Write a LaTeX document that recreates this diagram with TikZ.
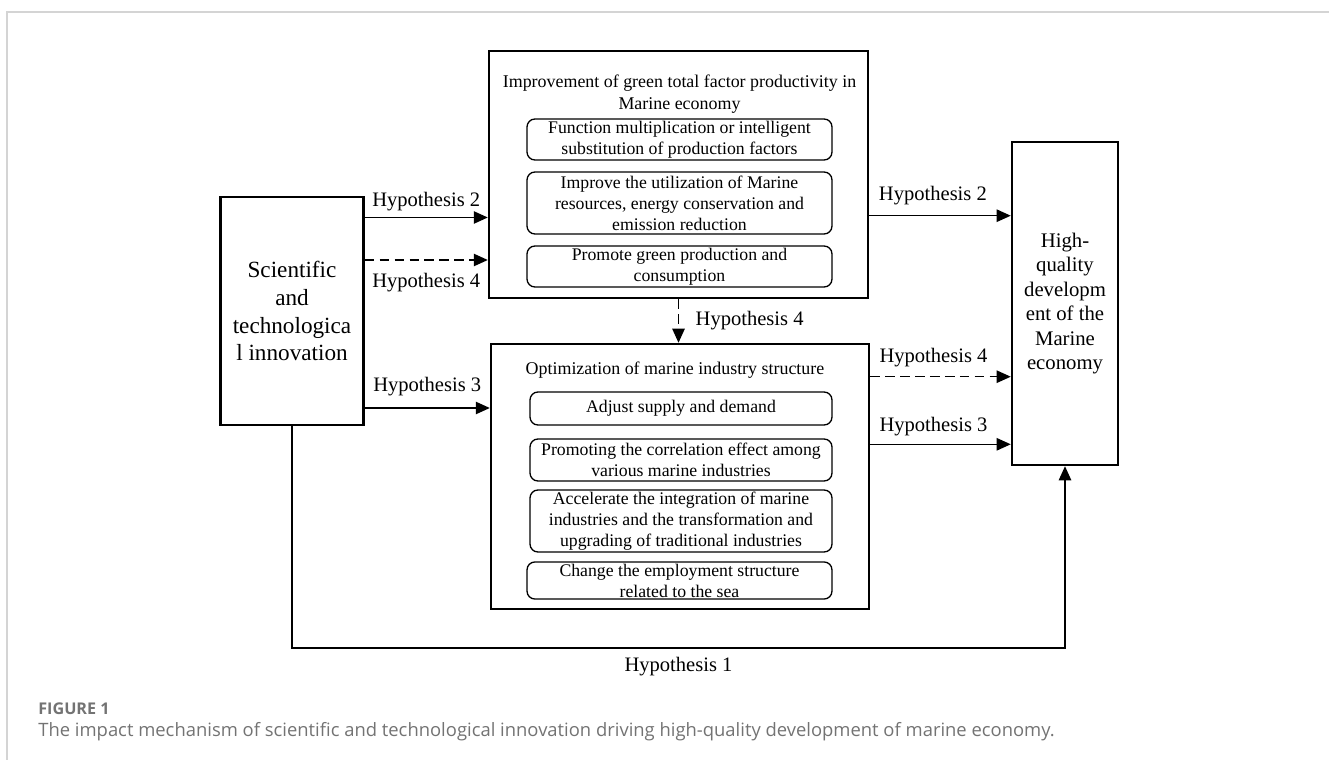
\documentclass[tikz,border=0pt]{standalone}
\usepackage{fontspec}
\setmainfont{Liberation Serif}
\newfontfamily\capfont{Open Sans}
\usetikzlibrary{arrows.meta, positioning, calc}
\definecolor{framegray}{RGB}{212, 212, 212}
\definecolor{capgray}{RGB}{115, 115, 115}

\begin{document}
\begin{tikzpicture}[x=0.02cm, y=-0.02cm,
    bigbox/.style={rectangle, draw, line width=1.4pt, align=center, inner sep=2pt},
    subbox/.style={rectangle, rounded corners=4.5pt, draw, line width=0.75pt,
                   minimum width=6.1cm, align=center, inner sep=1pt,
                   font=\fontsize{10.1}{12}\selectfont},
    hyp/.style={font=\fontsize{11.7}{14}\selectfont},
    arr/.style={-{Triangle[length=8pt, width=7pt]}, line width=0.9pt},
    dash4/.style={dash pattern=on 5.5pt off 3pt}]

    \useasboundingbox (0,0) rectangle (1329,760);
    \draw[framegray, line width=0.7pt] (7,760) -- (7,12) -- (1329,12);

    % Main boxes
    \node[bigbox, minimum width=2.86cm, minimum height=4.56cm,
          font=\fontsize{13.2}{15.9}\selectfont] (sci) at (292, 311)
          {Scientific\\and\\technologica\\l innovation};
    \node[bigbox, minimum width=7.58cm, minimum height=4.94cm] (gtfp) at (678.5, 174.5) {};
    \node[bigbox, minimum width=7.56cm, minimum height=5.3cm] (ind) at (680, 476.5) {};
    \node[bigbox, minimum width=2.12cm, minimum height=6.46cm,
          font=\fontsize{11.8}{13.9}\selectfont] (hq) at (1065, 303.5)
          {High-\\quality\\developm\\ent of the\\Marine\\economy};

    % Green total factor productivity
    \node[align=center, font=\fontsize{10.2}{12.5}\selectfont] (gtfptitle) at (679.5, 94)
          {Improvement of green total factor productivity in\\Marine economy};
    \node[subbox, minimum height=0.82cm] (ga) at (679.5, 139.5)
          {Function multiplication or intelligent\\substitution of production factors};
    \node[subbox, minimum height=1.24cm] (gb) at (679.5, 203)
          {Improve the utilization of Marine\\resources, energy conservation and\\emission reduction};
    \node[subbox, minimum height=0.82cm] (gc) at (679.5, 266.5)
          {Promote green production and\\consumption};

    % Industry structure
    \node[font=\fontsize{10.2}{12.5}\selectfont] (indtitle) at (675, 370)
          {Optimization of marine industry structure};
    \node[subbox, minimum width=6.04cm, minimum height=0.66cm] (ia) at (681, 408.5)
          {Adjust supply and demand};
    \node[subbox, minimum width=6.04cm, minimum height=0.84cm] (ib) at (681, 460)
          {Promoting the correlation effect among\\various marine industries};
    \node[subbox, minimum width=6.04cm, minimum height=1.24cm] (ic) at (681, 521)
          {Accelerate the integration of marine\\industries and the transformation and\\upgrading of traditional industries};
    \node[subbox, minimum height=0.74cm] (id) at (679.5, 580.5)
          {Change the employment structure\\related to the sea};

    % Arrows
    \coordinate (l2) at (0, 217.5);
    \coordinate (l4) at (0, 260);
    \coordinate (l3) at (0, 408);
    \coordinate (r2) at (0, 215.7);
    \coordinate (r4) at (0, 376.7);
    \coordinate (r3) at (0, 444.3);
    \coordinate (b1) at (0, 648);

    \draw[arr] (sci.east |- l2) -- node[hyp, above] {Hypothesis 2} (gtfp.west |- l2);
    \draw[arr, dash4] (sci.east |- l4) -- node[hyp, below=4pt] {Hypothesis 4} (gtfp.west |- l4);
    \draw[arr] (sci.east |- l3) -- node[hyp, above=3pt] {Hypothesis 3} (ind.west |- l3);

    \draw[arr] (gtfp.east |- r2) -- node[hyp, pos=0.45, above=2.5pt] {Hypothesis 2} (hq.west |- r2);
    \draw[arr, dash4] (ind.east |- r4) -- node[hyp, pos=0.45, above=1.5pt] {Hypothesis 4} (hq.west |- r4);
    \draw[arr] (ind.east |- r3) -- node[hyp, pos=0.45, above=1pt] {Hypothesis 3} (hq.west |- r3);

    \draw[arr, dash4] (gtfp.south) -- node[hyp, right=6pt] {Hypothesis 4} (gtfp.south |- ind.north);

    \draw[arr] (sci.south) |- node[hyp, pos=0.75, below=1.5pt] {Hypothesis 1} (hq.south |- b1) -- (hq.south);

    % Caption
    \node[anchor=base west, inner sep=0pt, text=capgray,
          font=\capfont\fontsize{9.2}{11}\selectfont\bfseries] (figlab) at (38, 714) {FIGURE 1};
    \node[anchor=base west, inner sep=0pt, text=capgray,
          font=\capfont\fontsize{10.48}{12}\selectfont] (caption) at (38, 736)
          {The impact mechanism of scientific and technological innovation driving high-quality development of marine economy.};
\end{tikzpicture}
\end{document}
